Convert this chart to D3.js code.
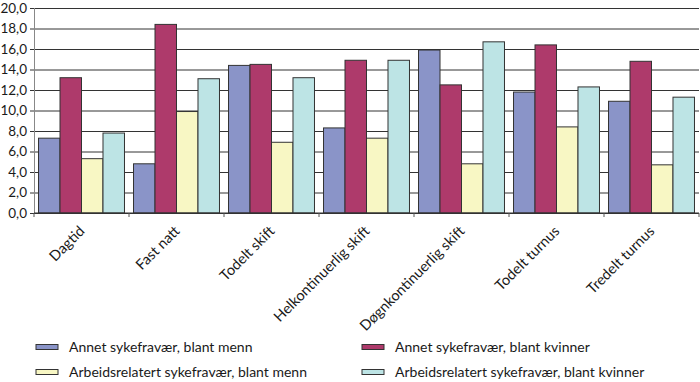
<!DOCTYPE html>
<html>
<head>
<meta charset="utf-8">
<script src="https://cdn.jsdelivr.net/npm/d3@7"></script>
<style>
  body { margin: 0; background: #fff; }
  text { font-family: Lato, "Open Sans", sans-serif; fill: #1a1a1a; }
</style>
</head>
<body>
<div id="chart"></div>
<script>
var width = 700, height = 382;
var margin = {top: 8, right: 1, bottom: 169, left: 34};

var categories = ["Dagtid", "Fast natt", "Todelt skift", "Helkontinuerlig skift",
                  "Døgnkontinuerlig skift", "Todelt turnus", "Tredelt turnus"];
var series = ["Annet sykefravær, blant menn", "Annet sykefravær, blant kvinner",
              "Arbeidsrelatert sykefravær, blant menn", "Arbeidsrelatert sykefravær, blant kvinner"];
var colors = ["#8a94c8", "#ae3a6b", "#f8f7c4", "#bde4e5"];

var annetMenn      = [7.3, 4.8, 14.4, 8.3, 15.9, 11.8, 10.9];
var annetKvinner   = [13.2, 18.4, 14.5, 14.9, 12.5, 16.4, 14.8];
var arbeidMenn     = [5.3, 9.9, 6.9, 7.3, 4.8, 8.4, 4.7];
var arbeidKvinner  = [7.8, 13.1, 13.2, 14.9, 16.7, 12.3, 11.3];
var yTicks = [0, 2, 4, 6, 8, 10, 12, 14, 16, 18, 20];

var values = [annetMenn, annetKvinner, arbeidMenn, arbeidKvinner];

var gw = width - margin.left - margin.right;
var gh = height - margin.top - margin.bottom;

var svg = d3.select("#chart").append("svg")
    .attr("width", width)
    .attr("height", height);

var g = svg.append("g")
    .attr("transform", "translate(" + margin.left + "," + margin.top + ")");

var x0 = d3.scaleBand().domain(categories).range([0, gw]).padding(0);
var x1 = d3.scaleBand().domain(d3.range(series.length))
    .range([0, x0.bandwidth()]).paddingInner(0).paddingOuter(0.21);
var y = d3.scaleLinear().domain([0, 20]).range([gh, 0]);

var fmt = d3.formatLocale({decimal: ",", thousands: " ", grouping: [3], currency: ["", ""]}).format(".1f");

// grid + y axis
var yAxis = g.append("g")
    .call(d3.axisLeft(y).tickValues(yTicks).tickFormat(fmt).tickSize(-gw).tickSizeOuter(0).tickPadding(7));
yAxis.select(".domain").remove();
yAxis.selectAll(".tick line").attr("stroke", "#333").attr("x1", -4);
yAxis.selectAll(".tick text").style("font-size", "13.5px").attr("fill", "#1a1a1a");

g.append("line")
    .attr("x1", 0.5).attr("x2", 0.5).attr("y1", 0).attr("y2", gh)
    .attr("stroke", "#888");

// bars
var groups = g.selectAll(".grp").data(categories).enter().append("g")
    .attr("transform", function(d) { return "translate(" + x0(d) + ",0)"; });

groups.selectAll("rect")
    .data(function(d, i) { return values.map(function(s, k) { return {k: k, v: s[i]}; }); })
    .enter().append("rect")
    .attr("x", function(d) { return x1(d.k); })
    .attr("y", function(d) { return y(d.v); })
    .attr("width", x1.bandwidth())
    .attr("height", function(d) { return gh - y(d.v); })
    .attr("fill", function(d) { return colors[d.k]; })
    .attr("stroke", "#333")
    .attr("stroke-width", 1);

// x axis
var xAxis = g.append("g")
    .attr("transform", "translate(0," + gh + ")");
xAxis.append("line").attr("x1", 0).attr("x2", gw).attr("stroke", "#333");
var bounds = categories.map(function(c) { return x0(c); }).concat([gw]);
xAxis.selectAll(".bt").data(bounds).enter().append("line")
    .attr("x1", function(d) { return d; }).attr("x2", function(d) { return d; })
    .attr("y1", 0).attr("y2", 4).attr("stroke", "#555");

xAxis.selectAll(".lbl").data(categories).enter().append("text")
    .attr("transform", function(d) {
        return "translate(" + (x0(d) + x0.bandwidth() / 2 + 4) + ",19) rotate(-45)";
    })
    .attr("text-anchor", "end")
    .style("font-size", "14.5px")
    .text(function(d) { return d; });

// legend
var legend = svg.append("g");
var legItems = legend.selectAll(".li").data(series).enter().append("g")
    .attr("transform", function(d, i) {
        var col = i % 2, row = Math.floor(i / 2);
        return "translate(" + (col === 0 ? 36 : 362) + "," + (347 + row * 25) + ")";
    });
legItems.append("rect")
    .attr("x", 0).attr("y", -2.5).attr("width", 22).attr("height", 5)
    .attr("fill", function(d, i) { return colors[i]; })
    .attr("stroke", "#333").attr("stroke-width", 1);
legItems.append("text")
    .attr("x", 33).attr("y", 0).attr("dy", "0.35em")
    .style("font-size", "14px")
    .text(function(d) { return d; });
</script>
</body>
</html>
